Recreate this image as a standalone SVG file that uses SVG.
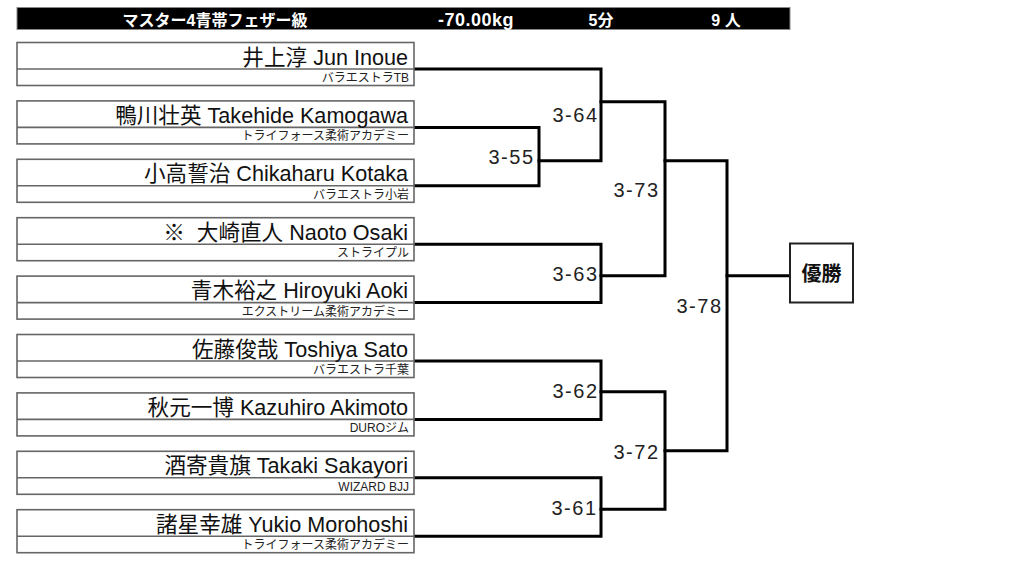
<svg xmlns="http://www.w3.org/2000/svg" width="1024" height="574" viewBox="0 0 1024 574">
<style>
.box{fill:#fff;stroke:#666;stroke-width:1.6}
.div{stroke:#666;stroke-width:1.6}
.nm{font-family:"Liberation Sans","Noto Sans CJK JP",sans-serif;font-size:21.6px;fill:#111;text-anchor:end}
.cl{font-family:"Liberation Sans","Noto Sans CJK JP",sans-serif;font-size:12px;fill:#222;text-anchor:end}
.sc{font-family:"Liberation Sans","Noto Sans CJK JP",sans-serif;font-size:20px;fill:#222;text-anchor:end;letter-spacing:1.5px}
.hd{font-family:"Liberation Sans","Noto Sans CJK JP",sans-serif;font-size:16px;font-weight:bold;fill:#fff}
.ln{fill:none;stroke:#000;stroke-width:3;stroke-linejoin:miter;stroke-linecap:square}
</style>
<rect width="1024" height="574" fill="#fff"/>
<g id="header">
<rect x="17" y="7.5" width="773" height="22" fill="#000" stroke="#888" stroke-width="1"/>
<text class="hd" x="215" y="26" text-anchor="middle">マスター4青帯フェザー級</text>
<text class="hd" x="476" y="26" text-anchor="middle" style="font-size:18px;letter-spacing:0.5px">-70.00kg</text>
<text class="hd" x="601" y="26" text-anchor="middle">5分</text>
<text class="hd" x="726" y="26" text-anchor="middle">9 人</text>
</g>
<g id="connectors">
<path class="ln" d="M414,127.4 H539 V185.8 H414"/>
<path class="ln" d="M414,69 H601 V160.7 H539"/>
<path class="ln" d="M414,244.2 H601 V302.6 H414"/>
<path class="ln" d="M601,101.7 H665 V275.7 H601"/>
<path class="ln" d="M414,361 H601 V419.4 H414"/>
<path class="ln" d="M414,477.8 H601 V536.2 H414"/>
<path class="ln" d="M601,391.7 H665 V509.3 H601"/>
<path class="ln" d="M665,160.7 H727 V450.7 H665"/>
<path class="ln" d="M727,275.7 H790"/>
</g>
<g id="scores">
<text class="sc" x="598.5" y="122.3">3-64</text>
<text class="sc" x="534.5" y="164.3">3-55</text>
<text class="sc" x="659.5" y="196.7">3-73</text>
<text class="sc" x="598.5" y="280.7">3-63</text>
<text class="sc" x="722.5" y="313">3-78</text>
<text class="sc" x="598.5" y="398.3">3-62</text>
<text class="sc" x="659.5" y="459">3-72</text>
<text class="sc" x="597.5" y="515">3-61</text>
</g>
<g id="p1"><rect class="box" x="17" y="42.5" width="397" height="43"/><line class="div" x1="17" y1="69" x2="414" y2="69"/><text class="nm" x="408" y="64.5">井上淳 Jun Inoue</text><text class="cl" x="409" y="82">バラエストラTB</text></g>
<g id="p2"><rect class="box" x="17" y="100.9" width="397" height="43"/><line class="div" x1="17" y1="127.4" x2="414" y2="127.4"/><text class="nm" x="408" y="122.9">鴨川壮英 Takehide Kamogawa</text><text class="cl" x="409" y="140.4">トライフォース柔術アカデミー</text></g>
<g id="p3"><rect class="box" x="17" y="159.3" width="397" height="43"/><line class="div" x1="17" y1="185.8" x2="414" y2="185.8"/><text class="nm" x="408" y="181.3">小高誓治 Chikaharu Kotaka</text><text class="cl" x="409" y="198.8">バラエストラ小岩</text></g>
<g id="p4"><rect class="box" x="17" y="217.7" width="397" height="43"/><line class="div" x1="17" y1="244.2" x2="414" y2="244.2"/><text class="nm" x="408" y="239.7" xml:space="preserve">※  大崎直人 Naoto Osaki</text><text class="cl" x="409" y="257.2">ストライプル</text></g>
<g id="p5"><rect class="box" x="17" y="276.1" width="397" height="43"/><line class="div" x1="17" y1="302.6" x2="414" y2="302.6"/><text class="nm" x="408" y="298.1">青木裕之 Hiroyuki Aoki</text><text class="cl" x="409" y="315.6">エクストリーム柔術アカデミー</text></g>
<g id="p6"><rect class="box" x="17" y="334.5" width="397" height="43"/><line class="div" x1="17" y1="361" x2="414" y2="361"/><text class="nm" x="408" y="356.5">佐藤俊哉 Toshiya Sato</text><text class="cl" x="409" y="374">バラエストラ千葉</text></g>
<g id="p7"><rect class="box" x="17" y="392.9" width="397" height="43"/><line class="div" x1="17" y1="419.4" x2="414" y2="419.4"/><text class="nm" x="408" y="414.9">秋元一博 Kazuhiro Akimoto</text><text class="cl" x="409" y="432.4">DUROジム</text></g>
<g id="p8"><rect class="box" x="17" y="451.3" width="397" height="43"/><line class="div" x1="17" y1="477.8" x2="414" y2="477.8"/><text class="nm" x="408" y="473.3">酒寄貴旗 Takaki Sakayori</text><text class="cl" x="409" y="490.8">WIZARD BJJ</text></g>
<g id="p9"><rect class="box" x="17" y="509.7" width="397" height="43"/><line class="div" x1="17" y1="536.2" x2="414" y2="536.2"/><text class="nm" x="408" y="531.7">諸星幸雄 Yukio Morohoshi</text><text class="cl" x="409" y="549.2">トライフォース柔術アカデミー</text></g>
<g id="winner"><rect x="790" y="243.5" width="63" height="59" fill="#fff" stroke="#222" stroke-width="2"/><text x="821.5" y="281" text-anchor="middle" style="font-family:'Liberation Sans','Noto Sans CJK JP',sans-serif;font-size:20px;font-weight:bold;fill:#111">優勝</text></g>
</svg>
